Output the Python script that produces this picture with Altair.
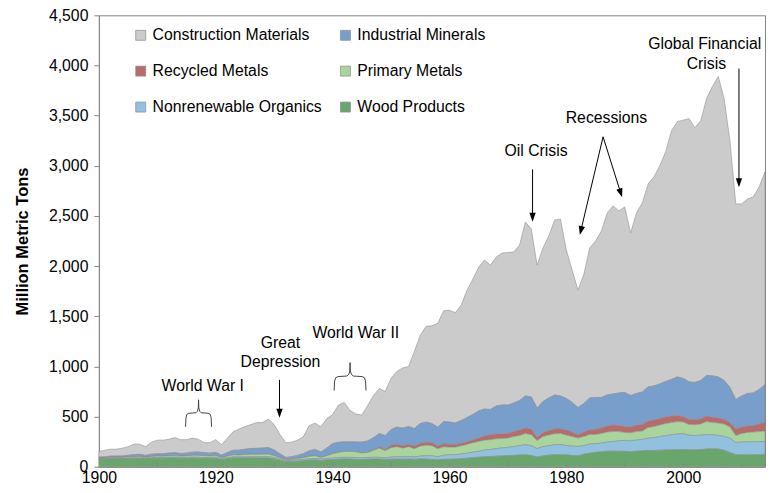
import math
import altair as alt
import pandas as pd

years = list(range(1900, 2015))

wood = [75, 76, 78, 78, 79, 80, 82, 83, 80, 84,
        85, 85, 86, 87, 85, 84, 86, 85, 82, 82,
        84, 70, 80, 86, 86, 87, 88, 87, 86, 86,
        78, 65, 50, 52, 55, 60, 66, 68, 62, 68,
        70, 75, 78, 76, 73, 70, 75, 76, 76, 72,
        75, 76, 74, 76, 74, 78, 76, 72, 70, 74,
        75, 76, 80, 85, 90, 95, 100, 102, 105, 108,
        110, 112, 116, 119, 112, 98, 108, 115, 120, 120,
        118, 112, 108, 125, 135, 143, 148, 155, 155, 155,
        153, 150, 155, 158, 162, 162, 165, 166, 168, 170,
        172, 168, 168, 170, 176, 178, 176, 165, 140, 120,
        119, 118, 120, 120, 120]

organics = [3, 3, 4, 4, 4, 5, 5, 6, 6, 6,
            7, 7, 8, 8, 8, 8, 9, 9, 9, 9,
            10, 9, 10, 11, 11, 12, 12, 13, 13, 14,
            13, 12, 11, 11, 12, 12, 13, 14, 13, 14,
            15, 16, 16, 17, 17, 17, 17, 18, 17, 16,
            21, 24, 24, 26, 24, 28, 34, 38, 28, 41,
            44, 44, 48, 50, 55, 58, 65, 70, 75, 80,
            83, 88, 94, 100, 98, 82, 92, 95, 99, 100,
            94, 94, 94, 85, 90, 86, 87, 90, 97, 103,
            109, 108, 110, 114, 123, 128, 135, 144, 150, 155,
            157, 147, 142, 145, 144, 140, 136, 137, 145, 122,
            126, 130, 128, 130, 132]

primary = [8, 8, 10, 10, 9, 12, 13, 13, 9, 13,
           14, 13, 16, 17, 13, 16, 20, 20, 19, 15,
           18, 10, 16, 22, 20, 23, 24, 23, 25, 27,
           20, 13, 8, 11, 14, 18, 25, 27, 17, 28,
           45, 52, 58, 60, 58, 50, 50, 70, 92, 72,
           94, 100, 87, 98, 82, 99, 105, 100, 80, 83,
           76, 75, 80, 87, 93, 99, 100, 98, 98, 94,
           92, 100, 102, 111, 108, 80, 100, 105, 109, 110,
           103, 94, 83, 90, 95, 93, 95, 100, 100, 92,
           80, 80, 85, 83, 105, 110, 115, 120, 122, 125,
           116, 105, 108, 110, 130, 122, 123, 123, 110, 68,
           85, 94, 97, 100, 103]

recycled = [0] * 48 + [15, 10,
            25, 25, 25, 25, 25, 30, 30, 30, 27, 30,
            27, 25, 27, 28, 30, 33, 40, 48, 47, 46,
            47, 50, 53, 55, 57, 30, 40, 45, 47, 45,
            50, 45, 33, 45, 48, 50, 55, 60, 63, 60,
            60, 57, 65, 65, 65, 65, 65, 65, 65, 60,
            55, 50, 50, 50, 55, 52, 50, 45, 45, 65,
            65, 63, 65, 75, 86]

industrial = [10, 12, 14, 14, 15, 17, 20, 21, 18, 22,
              23, 24, 26, 28, 26, 27, 30, 32, 30, 29,
              30, 27, 35, 45, 48, 52, 57, 60, 62, 64,
              55, 38, 24, 25, 32, 40, 55, 62, 55, 75,
              100, 100, 96, 95, 98, 108, 115, 125, 130, 140,
              155, 170, 175, 175, 175, 195, 200, 190, 190, 222,
              223, 215, 225, 240, 252, 270, 270, 252, 280, 287,
              283, 285, 295, 320, 320, 295, 310, 325, 340, 330,
              315, 295, 272, 285, 317, 318, 305, 310, 310, 325,
              338, 315, 315, 325, 340, 340, 345, 355, 365, 385,
              380, 375, 372, 385, 405, 413, 410, 390, 350, 295,
              310, 325, 325, 345, 379]

construction = [54, 66, 69, 69, 78, 86, 105, 102, 87, 120,
                136, 136, 139, 150, 138, 135, 140, 129, 100, 105,
                128, 104, 144, 186, 210, 226, 239, 257, 254, 284,
                254, 192, 147, 146, 152, 170, 251, 264, 248, 295,
                290, 372, 392, 312, 279, 270, 353, 421, 450, 440,
                510, 555, 600, 600, 770, 880, 955, 975, 1035, 1105,
                1115, 1100, 1150, 1270, 1350, 1435, 1485, 1440, 1485, 1515,
                1520, 1505, 1550, 1735, 1675, 1425, 1530, 1615, 1745, 1765,
                1480, 1320, 1170, 1290, 1495, 1560, 1660, 1815, 1875, 1815,
                1850, 1620, 1800, 1885, 2025, 2085, 2175, 2290, 2480, 2545,
                2575, 2625, 2540, 2590, 2760, 2885, 2995, 2810, 2460, 1950,
                1915, 1940, 1955, 2020, 2120]

series_names = ["Construction Materials", "Industrial Minerals", "Recycled Metals",
                "Primary Metals", "Nonrenewable Organics", "Wood Products"]
series_colors = ["#cbcbcb", "#789fcb", "#b86b6b", "#a9d49b", "#92c1df", "#68a66c"]
series_values = [construction, industrial, recycled, primary, organics, wood]

# annotation labels (year, million metric tons)
label_text = ["World War I", "Great", "Depression", "World War II", "Oil Crisis",
              "Recessions", "Global Financial", "Crisis"]
label_year = [1917.78, 1931.08, 1931.08, 1943.98, 1974.82, 1986.87, 2003.68, 2003.97]
label_value = [806, 1232, 1048, 1331, 3149, 3472, 4211, 4019]

# arrows: start (year, value) -> tip (year, value)
arrow_x1 = [1930.91, 1974.22, 1986.29, 1986.29, 2009.54]
arrow_y1 = [866, 2964, 3289, 3289, 3969]
arrow_x2 = [1930.91, 1974.22, 1982.31, 1989.54, 2009.54]
arrow_y2 = [488, 2442, 2310, 2685, 2785]

# braces: tip (year, value), half width in years, height in value units
brace_tip_year = [1917.06, 1942.99]
brace_tip_value = [667, 1038]
brace_half_years = [2.22, 2.73]
brace_height = [269, 279]

x_ticks = list(range(1900, 2011, 10))
y_ticks = list(range(0, 4501, 500))

W, H = 667, 452
XMIN, XMAX, YMAX = 1900, 2014, 4500
px_year = W / (XMAX - XMIN)
px_unit = H / YMAX
FONT = "Liberation Sans"

rows = []
for k, (name, vals) in enumerate(zip(series_names, series_values)):
    for yr, v in zip(years, vals):
        rows.append({"year": yr, "value": v, "series": name, "ord": 5 - k})
df = pd.DataFrame(rows)

xs = alt.Scale(domain=[XMIN, XMAX], nice=False, zero=False)
ys = alt.Scale(domain=[0, YMAX], nice=False)

areas = alt.Chart(df).mark_area(stroke="#8c8c8c", strokeWidth=0.7, strokeOpacity=0.8).encode(
    x=alt.X("year:Q", scale=xs,
            axis=alt.Axis(values=x_ticks, format="d",
                          labelExpr="datum.value % 20 == 0 ? datum.label : ''",
                          ticks=False, tickSize=0, labelPadding=4, labelFlush=False,
                          labelOverlap=False, title=None)),
    y=alt.Y("value:Q", stack="zero", scale=ys,
            axis=alt.Axis(values=y_ticks, format=",.0f", tickSize=5, labelPadding=6,
                          labelFlush=False, title="Million Metric Tons",
                          titleFontWeight="bold", titleFontSize=16.5, titleX=-68)),
    color=alt.Color("series:N", scale=alt.Scale(domain=series_names, range=series_colors),
                    legend=alt.Legend(orient="none", legendX=34, legendY=12, columns=2,
                                      direction="horizontal",
                                      title=None, symbolType="square", symbolSize=100,
                                      labelFontSize=15.8, labelFont=FONT, labelColor="#000",
                                      labelLimit=400,
                                      columnPadding=15, rowPadding=19, labelOffset=4,
                                      padding=0, symbolStrokeWidth=0.7)),
    order=alt.Order("ord:Q"),
)

tick_df = pd.DataFrame({"year": x_ticks[1:], "lo": 0, "hi": 45})
xtick_rules = alt.Chart(tick_df).mark_rule(color="#868686").encode(
    x=alt.X("year:Q", scale=xs), y=alt.Y("lo:Q", scale=ys), y2="hi:Q")

lab_df = pd.DataFrame({"t": label_text, "year": label_year, "value": label_value})
labels = alt.Chart(lab_df).mark_text(fontSize=15.8, font=FONT, color="#000", baseline="middle").encode(
    x=alt.X("year:Q", scale=xs), y=alt.Y("value:Q", scale=ys), text="t:N")

head_len = 4.5
arr_rows, head_rows = [], []
for x1, y1, x2, y2 in zip(arrow_x1, arrow_y1, arrow_x2, arrow_y2):
    dxp = (x2 - x1) * px_year
    dyp = -(y2 - y1) * px_unit
    L = math.hypot(dxp, dyp)
    ux, uy = dxp / L, dyp / L
    cx = x2 - ux * head_len / px_year
    cy = y2 + uy * head_len / px_unit
    ang = math.degrees(math.atan2(ux, -uy)) % 360
    arr_rows.append({"x1": x1, "y1": y1, "x2": cx, "y2": cy})
    head_rows.append({"x": cx, "y": cy, "ang": ang})
arr_df = pd.DataFrame(arr_rows)
head_df = pd.DataFrame(head_rows)

arrows = alt.Chart(arr_df).mark_rule(color="#000", strokeWidth=1).encode(
    x=alt.X("x1:Q", scale=xs), y=alt.Y("y1:Q", scale=ys), x2="x2:Q", y2="y2:Q")
heads = alt.Chart(head_df).mark_point(shape="M0,-1L0.7,1L-0.7,1Z", filled=True, size=81,
                                      color="#000", opacity=1).encode(
    x=alt.X("x:Q", scale=xs), y=alt.Y("y:Q", scale=ys), angle=alt.Angle("ang:Q", scale=None))

shape = [(-1.0, 1.0), (-0.97, 0.66), (-0.9, 0.54), (-0.75, 0.5), (-0.2, 0.48), (-0.08, 0.42),
         (-0.02, 0.3), (0.0, 0.0), (0.02, 0.3), (0.08, 0.42), (0.2, 0.48), (0.75, 0.5),
         (0.9, 0.54), (0.97, 0.66), (1.0, 1.0)]
brace_rows = []
for b, (ty, tv, hw, hh) in enumerate(zip(brace_tip_year, brace_tip_value, brace_half_years, brace_height)):
    for k, (sx, sy) in enumerate(shape):
        brace_rows.append({"id": b, "k": k, "year": ty + sx * hw, "value": tv - sy * hh})
brace_df = pd.DataFrame(brace_rows)
braces = alt.Chart(brace_df).mark_line(color="#444", strokeWidth=1).encode(
    x=alt.X("year:Q", scale=xs), y=alt.Y("value:Q", scale=ys), detail="id:N", order="k:Q")

chart = alt.layer(areas, xtick_rules, arrows, heads, braces, labels).properties(
    width=W, height=H,
    autosize=alt.AutoSizeParams(type="none"),
    padding={"left": 91, "top": 7, "right": 2, "bottom": 20},
).configure_view(stroke="#868686", strokeWidth=1).configure_axis(
    domainColor="#868686", tickColor="#868686", labelColor="#000", titleColor="#000",
    labelFont=FONT, titleFont=FONT, labelFontSize=15.8, grid=False)

chart.save("out.html", embed_options={"renderer": "svg", "actions": False})
